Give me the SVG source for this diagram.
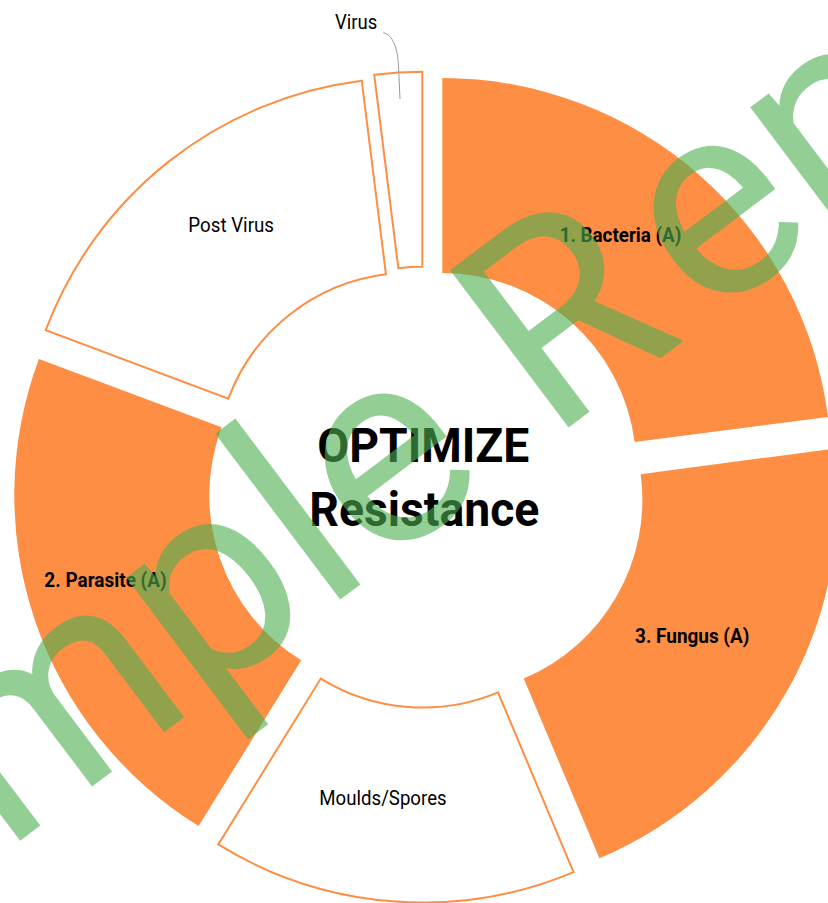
<svg xmlns="http://www.w3.org/2000/svg" width="828" height="903" viewBox="0 0 828 903">
<style>
.fillseg{fill:#FD8E44;stroke:none}
.lineseg{fill:#FFFFFF;stroke:#FD8E44;stroke-width:2;stroke-linejoin:miter}
.lbl{font-family:Roboto,"Liberation Sans",sans-serif;font-size:21px;fill:#000000;text-anchor:middle}
.b{font-weight:700}
.title{font-family:Roboto,"Liberation Sans",sans-serif;font-size:49px;font-weight:700;fill:#000000;text-anchor:middle}
.conn{fill:none;stroke:#999999;stroke-width:1}
.wm{font-family:Roboto,"Liberation Sans",sans-serif;font-size:277px;font-weight:400;fill:#4CAF50}
</style>
<rect x="0" y="0" width="828" height="903" fill="#FFFFFF"/>
<g id="bacteria">
<path class="fillseg" d="M442.3 78 A389 389 0 0 1 828.06 416.9 L634.68 442.01 A194 194 0 0 0 442.3 273 Z"/>
<text class="lbl b" x="620.5" y="242.3" textLength="121.7" lengthAdjust="spacingAndGlyphs">1. Bacteria (A)</text>
</g>
<g id="fungus">
<path class="fillseg" d="M834.03 448.59 A389 389 0 0 1 599.46 858.17 L523.73 678.47 A194 194 0 0 0 640.72 474.21 Z"/>
<text class="lbl b" x="692.2" y="642.7" textLength="114.3" lengthAdjust="spacingAndGlyphs">3. Fungus (A)</text>
</g>
<g id="moulds">
<path class="lineseg" d="M573.55 872.1 A389 389 0 0 1 218.31 844.41 L320.82 678.53 A194 194 0 0 0 497.98 692.34 Z"/>
<text class="lbl" x="383" y="805" textLength="127.3" lengthAdjust="spacingAndGlyphs">Moulds/Spores</text>
</g>
<g id="parasite">
<path class="fillseg" d="M198.58 826.07 A389 389 0 0 1 38.93 359.07 L221.59 427.36 A194 194 0 0 0 301.2 660.26 Z"/>
<text class="lbl b" x="105.5" y="586.7" textLength="122.3" lengthAdjust="spacingAndGlyphs">2. Parasite (A)</text>
</g>
<g id="post-virus">
<path class="lineseg" d="M45.76 330.16 A389 389 0 0 1 361.72 80.71 L385.92 274.2 A194 194 0 0 0 228.35 398.6 Z"/>
<text class="lbl" x="231.2" y="231.7" textLength="85.7" lengthAdjust="spacingAndGlyphs">Post Virus</text>
</g>
<g id="virus">
<path class="lineseg" d="M374.22 74.68 A389 389 0 0 1 422.3 71.7 L422.3 266.7 A194 194 0 0 0 398.32 268.19 Z"/>
<text class="lbl" x="356.2" y="29.3" textLength="42.3" lengthAdjust="spacingAndGlyphs">Virus</text>
</g>
<g id="connectors">
<path class="conn" d="M383.3 32.7 C393 35 397.5 48 398.5 66 L400 99"/>
</g>
<g id="center-title">
<text class="title" x="423.3" y="461.7" textLength="212" lengthAdjust="spacingAndGlyphs">OPTIMIZE</text>
<text class="title" x="424.3" y="526" textLength="230" lengthAdjust="spacingAndGlyphs">Resistance</text>
</g>
<g id="watermark" opacity="0.6" transform="translate(550.4 441.2) rotate(-37)">
<text class="wm" x="-70" y="0" text-anchor="end">Sample</text>
<text class="wm" x="0" y="0" dx="0 24">Report</text>
</g>
</svg>
